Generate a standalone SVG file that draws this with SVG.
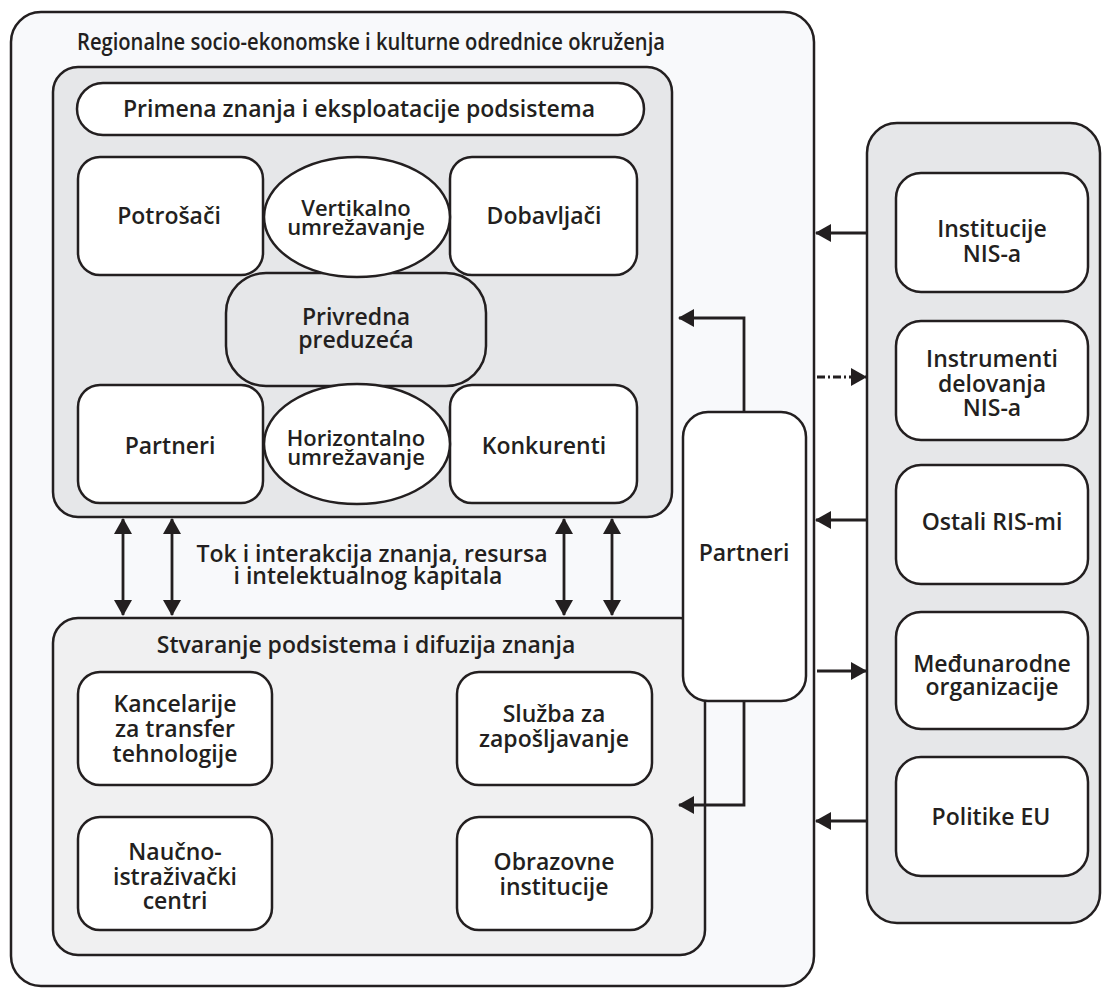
<svg xmlns="http://www.w3.org/2000/svg" width="1108" height="989" viewBox="0 0 1108 989">
<style>
.frame{fill:#f8f9fb;stroke:#231f20;stroke-width:2.5}
.gray{fill:#e6e7e9;stroke:#231f20;stroke-width:2.5}
.light{fill:#f0f0f1;stroke:#231f20;stroke-width:2.5}
.box{fill:#ffffff;stroke:#231f20;stroke-width:2.5}
.t{font-family:"Open Sans","Noto Sans",sans-serif;font-weight:600;font-size:23px;fill:#231f20;text-anchor:middle}
.e{font-size:22px}
.ln{fill:none;stroke:#231f20;stroke-width:2.8}
.dash{stroke-dasharray:8 3 2 3}
</style>
<defs>
<marker id="ah" markerUnits="userSpaceOnUse" markerWidth="16" markerHeight="18" refX="15" refY="9" orient="auto-start-reverse">
<path d="M0,0 L16,9 L0,18 z" fill="#231f20"/>
</marker>
</defs>

<g id="outer">
<rect class="frame" x="11" y="12" width="803" height="974" rx="30"/>
<text class="t" x="371" y="50" textLength="588" lengthAdjust="spacingAndGlyphs">Regionalne socio-ekonomske i kulturne odrednice okruženja</text>
</g>

<g id="upper-subsystem">
<rect class="gray" x="53" y="67" width="619" height="450" rx="25"/>
</g>
<g id="primena">
<rect class="box" x="77" y="83" width="567" height="52" rx="26"/>
<text class="t" x="359" y="117">Primena znanja i eksploatacije podsistema</text>
</g>
<g id="potrosaci">
<rect class="box" x="78" y="157" width="185" height="118" rx="22"/>
<text class="t" x="169" y="224">Potrošači</text>
</g>
<g id="dobavljaci">
<rect class="box" x="450" y="157" width="187" height="118" rx="22"/>
<text class="t" x="544" y="224">Dobavljači</text>
</g>
<g id="partneri-gore">
<rect class="box" x="78" y="385" width="185" height="118" rx="22"/>
<text class="t" x="170" y="454">Partneri</text>
</g>
<g id="konkurenti">
<rect class="box" x="450" y="385" width="187" height="118" rx="22"/>
<text class="t" x="544" y="454">Konkurenti</text>
</g>
<g id="privredna">
<rect class="gray" x="226" y="273" width="260" height="113" rx="40"/>
<text class="t" x="356" y="325">Privredna</text>
<text class="t" x="356" y="348">preduzeća</text>
</g>
<g id="vertikalno">
<ellipse class="box" cx="357" cy="217" rx="93" ry="60"/>
<text class="t e" x="356" y="216">Vertikalno</text>
<text class="t e" x="356" y="235">umrežavanje</text>
</g>
<g id="horizontalno">
<ellipse class="box" cx="357" cy="444" rx="93" ry="60"/>
<text class="t e" x="356" y="446">Horizontalno</text>
<text class="t e" x="356" y="465">umrežavanje</text>
</g>

<g id="tok-label">
<text class="t" x="372" y="562">Tok i interakcija znanja, resursa</text>
<text class="t" x="368" y="584">i intelektualnog kapitala</text>
</g>

<g id="lower-subsystem">
<rect class="light" x="53" y="618" width="652" height="337" rx="25"/>
<text class="t" x="366" y="653">Stvaranje podsistema i difuzija znanja</text>
</g>
<g id="kancelarije">
<rect class="box" x="78" y="672" width="194" height="113" rx="22"/>
<text class="t" x="175" y="712">Kancelarije</text>
<text class="t" x="175" y="737">za transfer</text>
<text class="t" x="175" y="762">tehnologije</text>
</g>
<g id="sluzba">
<rect class="box" x="457" y="672" width="195" height="113" rx="22"/>
<text class="t" x="554" y="722">Služba za</text>
<text class="t" x="554" y="747">zapošljavanje</text>
</g>
<g id="naucno">
<rect class="box" x="78" y="817" width="194" height="113" rx="22"/>
<text class="t" x="175" y="860">Naučno-</text>
<text class="t" x="175" y="885">istraživački</text>
<text class="t" x="175" y="909">centri</text>
</g>
<g id="obrazovne">
<rect class="box" x="457" y="817" width="195" height="113" rx="22"/>
<text class="t" x="554" y="870">Obrazovne</text>
<text class="t" x="554" y="895">institucije</text>
</g>

<g id="partneri">
<rect class="box" x="683" y="412" width="123" height="289" rx="25"/>
<text class="t" x="744" y="561">Partneri</text>
</g>

<g id="nis-panel">
<rect class="gray" x="867" y="123" width="233" height="800" rx="30"/>
</g>
<g id="institucije">
<rect class="box" x="896" y="173" width="192" height="119" rx="25"/>
<text class="t" x="992" y="237">Institucije</text>
<text class="t" x="992" y="262">NIS-a</text>
</g>
<g id="instrumenti">
<rect class="box" x="896" y="321" width="192" height="119" rx="25"/>
<text class="t" x="992" y="367">Instrumenti</text>
<text class="t" x="992" y="392">delovanja</text>
<text class="t" x="992" y="416">NIS-a</text>
</g>
<g id="ostali">
<rect class="box" x="896" y="465" width="192" height="119" rx="25"/>
<text class="t" x="992" y="530">Ostali RIS-mi</text>
</g>
<g id="medjunarodne">
<rect class="box" x="896" y="612" width="192" height="117" rx="25"/>
<text class="t" x="992" y="672">Međunarodne</text>
<text class="t" x="992" y="695">organizacije</text>
</g>
<g id="politike">
<rect class="box" x="896" y="757" width="192" height="119" rx="25"/>
<text class="t" x="991" y="825">Politike EU</text>
</g>

<g id="connectors">
<line class="ln" x1="123" y1="519" x2="123" y2="615" marker-start="url(#ah)" marker-end="url(#ah)"/>
<line class="ln" x1="172" y1="519" x2="172" y2="615" marker-start="url(#ah)" marker-end="url(#ah)"/>
<line class="ln" x1="564" y1="519" x2="564" y2="615" marker-start="url(#ah)" marker-end="url(#ah)"/>
<line class="ln" x1="612" y1="519" x2="612" y2="615" marker-start="url(#ah)" marker-end="url(#ah)"/>
<polyline class="ln" points="744,412 744,318 679,318" marker-end="url(#ah)"/>
<polyline class="ln" points="744,701 744,805 679,805" marker-end="url(#ah)"/>
<line class="ln" x1="867" y1="233" x2="816" y2="233" marker-end="url(#ah)"/>
<line class="ln dash" x1="817" y1="377" x2="866" y2="377" marker-end="url(#ah)"/>
<line class="ln" x1="867" y1="520" x2="816" y2="520" marker-end="url(#ah)"/>
<line class="ln" x1="817" y1="671" x2="866" y2="671" marker-end="url(#ah)"/>
<line class="ln" x1="867" y1="821" x2="816" y2="821" marker-end="url(#ah)"/>
</g>
</svg>
